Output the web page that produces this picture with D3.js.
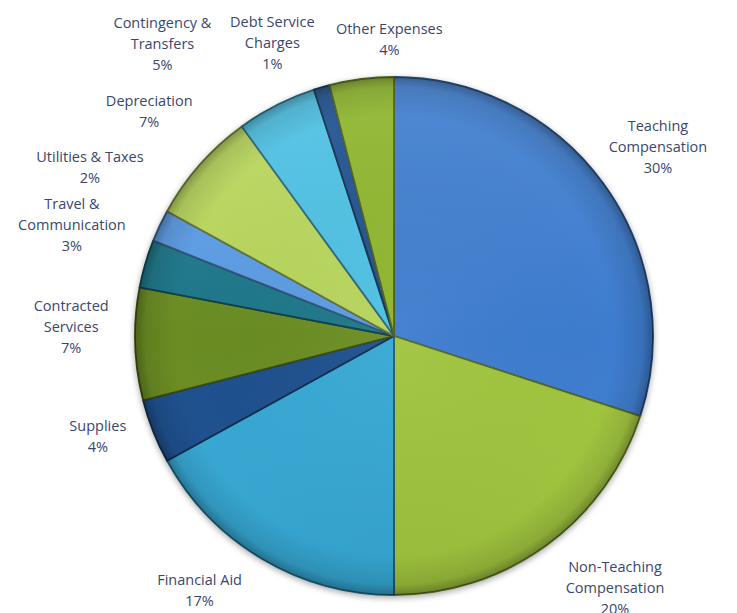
<!DOCTYPE html>
<html>
<head>
<meta charset="utf-8">
<script src="https://cdn.jsdelivr.net/npm/d3@7"></script>
<style>
  html, body { margin: 0; padding: 0; background: #ffffff; }
  svg { display: block; }
</style>
</head>
<body>
<svg id="chart" width="737" height="613"></svg>
<script>
// ---- Data ----
const categories = [
  "Teaching Compensation",
  "Non-Teaching Compensation",
  "Financial Aid",
  "Supplies",
  "Contracted Services",
  "Travel & Communication",
  "Utilities & Taxes",
  "Depreciation",
  "Contingency & Transfers",
  "Debt Service Charges",
  "Other Expenses"
];
const values = [30, 20, 17, 4, 7, 3, 2, 7, 5, 1, 4];
const labelLines = [
  ["Teaching", "Compensation"],
  ["Non-Teaching", "Compensation"],
  ["Financial Aid"],
  ["Supplies"],
  ["Contracted", "Services"],
  ["Travel &", "Communication"],
  ["Utilities & Taxes"],
  ["Depreciation"],
  ["Contingency &", "Transfers"],
  ["Debt Service", "Charges"],
  ["Other Expenses"]
];
const colors = [
  "#3c7cce", "#a0c43c", "#34a8d4", "#1f4f8e", "#6a8c20", "#1a7688",
  "#5a9ae2", "#b6d45a", "#4cbfe2", "#1f4f8e", "#8cb42a"
];

// ---- Layout ----
const W = 737, H = 613;
const cx = 394, cy = 336, R = 259;
const labelR = 325;
const lineH = 21;
// label nudges (px) relative to label-ring centroid, to avoid overlaps
const nudge = {
  "Teaching Compensation": [1, 2],
  "Non-Teaching Compensation": [30, -11],
  "Financial Aid": [-29, -25],
  "Supplies": [6, -19],
  "Contracted Services": [2, -19],
  "Travel & Communication": [-10, -20],
  "Utilities & Taxes": [-10, -30],
  "Depreciation": [-1, -10],
  "Contingency & Transfers": [-84, -3],
  "Debt Service Charges": [-31, 19],
  "Other Expenses": [36, 26]
};

const svg = d3.select("#chart");
const defs = svg.append("defs");

// edge-darkening radial gradient (bevel look)
const rg = defs.append("radialGradient").attr("id", "edgeShade")
  .attr("cx", "50%").attr("cy", "50%").attr("r", "50%");
rg.append("stop").attr("offset", "0%").attr("stop-color", "#ffffff").attr("stop-opacity", 0.05);
rg.append("stop").attr("offset", "85%").attr("stop-color", "#000000").attr("stop-opacity", 0.0);
rg.append("stop").attr("offset", "96%").attr("stop-color", "#000000").attr("stop-opacity", 0.10);
rg.append("stop").attr("offset", "100%").attr("stop-color", "#000000").attr("stop-opacity", 0.30);

const lg = defs.append("linearGradient").attr("id", "topLight")
  .attr("x1", "0").attr("y1", "0").attr("x2", "0").attr("y2", "1");
lg.append("stop").attr("offset", "0%").attr("stop-color", "#ffffff").attr("stop-opacity", 0.10);
lg.append("stop").attr("offset", "50%").attr("stop-color", "#ffffff").attr("stop-opacity", 0.0);
lg.append("stop").attr("offset", "100%").attr("stop-color", "#000000").attr("stop-opacity", 0.06);

const shadow = defs.append("filter").attr("id", "shadow")
  .attr("x", "-10%").attr("y", "-10%").attr("width", "120%").attr("height", "120%");
shadow.append("feGaussianBlur").attr("in", "SourceAlpha").attr("stdDeviation", 3).attr("result", "b");
shadow.append("feOffset").attr("in", "b").attr("dx", 0).attr("dy", 2).attr("result", "o");
shadow.append("feComponentTransfer").attr("in", "o").attr("result", "s")
  .append("feFuncA").attr("type", "linear").attr("slope", 0.35);
const fm = shadow.append("feMerge");
fm.append("feMergeNode").attr("in", "s");
fm.append("feMergeNode").attr("in", "SourceGraphic");

const data = categories.map((c, i) => ({ name: c, value: values[i], lines: labelLines[i], color: colors[i] }));
const total = d3.sum(values);

const pie = d3.pie().sort(null).value(d => d.value).startAngle(0).endAngle(2 * Math.PI);
const arcs = pie(data);
const arc = d3.arc().innerRadius(0).outerRadius(R);
const labelArc = d3.arc().innerRadius(labelR).outerRadius(labelR);

const g = svg.append("g").attr("transform", `translate(${cx},${cy})`);
const pieG = g.append("g").attr("filter", "url(#shadow)");

pieG.selectAll("path.slice")
  .data(arcs)
  .join("path")
  .attr("class", "slice")
  .attr("d", arc)
  .attr("fill", d => d.data.color)
  .attr("stroke", d => d3.color(d.data.color).darker(1.8))
  .attr("stroke-width", 1.8)
  .attr("stroke-linejoin", "round");

// overlays for bevel shading
g.append("circle").attr("r", R).attr("fill", "url(#topLight)").attr("pointer-events", "none");
g.append("circle").attr("r", R).attr("fill", "url(#edgeShade)").attr("pointer-events", "none");

// ---- Labels ----
const fmt = d => Math.round(d.value / total * 100) + "%";
g.selectAll("text.lbl")
  .data(arcs)
  .join("text")
  .attr("class", "lbl")
  .attr("text-anchor", "middle")
  .attr("font-family", "'Open Sans', Lato, sans-serif")
  .attr("font-size", 14.5)
  .attr("fill", "#3a466e")
  .each(function (d) {
    const c = labelArc.centroid(d);
    const n = nudge[d.data.name] || [0, 0];
    const x = c[0] + n[0], y = c[1] + n[1];
    const lines = d.data.lines.concat([fmt(d.data)]);
    const y0 = y - (lines.length - 1) * lineH / 2;
    const t = d3.select(this);
    lines.forEach((ln, i) => {
      t.append("tspan")
        .attr("x", x)
        .attr("y", y0 + i * lineH)
        .attr("dy", "0.35em")
        .text(ln);
    });
  });
</script>
</body>
</html>
